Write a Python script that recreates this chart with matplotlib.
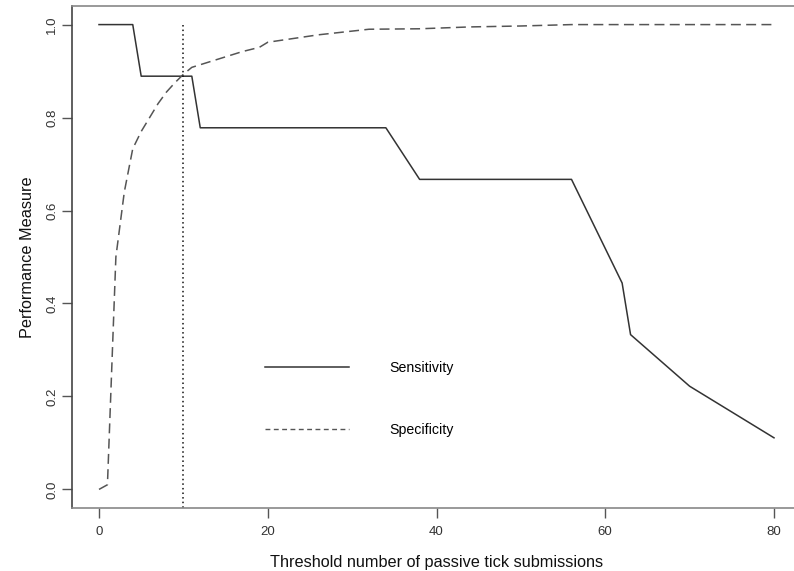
import numpy as np
import matplotlib.pyplot as plt
from matplotlib.lines import Line2D

plt.rcParams['font.family'] = ['Liberation Sans', 'DejaVu Sans']

# sensitivity curve
sens_x = [0, 4, 5, 11, 12, 34, 38, 56, 62, 63, 70, 80]
sens_y = [1.0, 1.0, 0.889, 0.889, 0.778, 0.778, 0.667, 0.667, 0.444, 0.333, 0.222, 0.111]

# specificity curve
spec_x = [0, 1, 2, 3, 4, 5, 6, 7, 8, 9, 10, 11, 14, 17, 19, 20, 23, 26, 29, 32, 38, 44, 50, 56, 80]
spec_y = [0.0, 0.01, 0.50, 0.64, 0.733, 0.77, 0.80, 0.83, 0.855, 0.875, 0.893, 0.908, 0.925, 0.942, 0.951, 0.962,
          0.970, 0.978, 0.984, 0.990, 0.991, 0.995, 0.997, 1.0, 1.0]

cutoff = 10
xticks = [0, 20, 40, 60, 80]
yticks = [0.0, 0.2, 0.4, 0.6, 0.8, 1.0]

fig = plt.figure(figsize=(7.94, 5.71), dpi=100)
ax = fig.add_axes([72 / 794, 63 / 571, 729 / 794, 502 / 571])

ax.plot(sens_x, sens_y, color='#333333', lw=1.1)
ax.plot(spec_x, spec_y, color='#555555', lw=1.1, dashes=(6.5, 3.5))
ax.plot([cutoff, cutoff], [1.0, -0.04], color='#111111', lw=1.1, dashes=(1, 2))

ax.set_xlim(-3.2, 83.2)
ax.set_ylim(-0.04, 1.04)
ax.set_xticks(xticks)
ax.set_yticks(yticks)
ax.set_xticklabels([str(t) for t in xticks])
ax.set_yticklabels(['%.1f' % t for t in yticks], rotation=90, va='center')
ax.tick_params(direction='out', length=7, width=1, colors='#555555', labelcolor='#333333',
               labelsize=9.5)
ax.tick_params(axis='y', pad=3)
ax.tick_params(axis='x', pad=6)
for s in ax.spines.values():
    s.set_color('#888888')
    s.set_linewidth(1.2)
ax.spines['left'].set_color('#444444')

ax.set_xlabel('Threshold number of passive tick submissions', fontsize=11.7, color='#111111', labelpad=12)
ax.set_ylabel('Performance Measure', fontsize=11.7, color='#111111', labelpad=8)

handles = [Line2D([], [], color='#333333', lw=1.1),
           Line2D([], [], color='#555555', lw=1.0, dashes=(3.5, 2.5))]
ax.legend(handles, ['Sensitivity', 'Specificity'], loc='upper left',
          bbox_to_anchor=(265 / 794, 0.368), bbox_transform=fig.transFigure,
          frameon=False, fontsize=10.2, handlelength=5.9, handletextpad=2.9,
          labelspacing=3.4, borderpad=0, borderaxespad=0)

fig.savefig('out.png', dpi=100)
